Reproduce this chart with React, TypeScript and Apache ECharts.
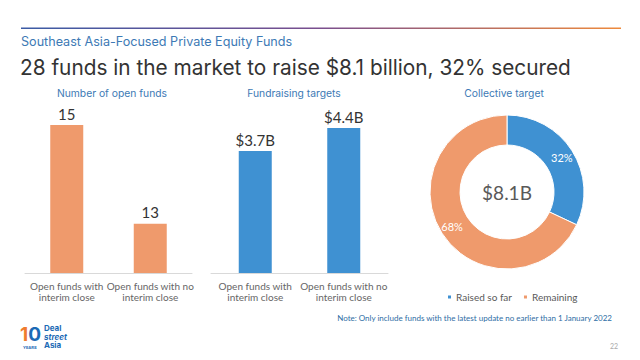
import React, { useEffect, useRef } from "react";
import * as echarts from "echarts";

const categories = ["Open funds with\ninterim close", "Open funds with no\ninterim close"];
const openFunds = [15, 13];
const targets = [3.7, 4.4];
const pieNames = ["Raised so far", "Remaining"];
const pieValues = [32, 68];
const totalLabel = "$8.1B";
const axisMins = [12, 0];

const ORANGE = "#EF9A6C";
const BLUE = "#3F91D2";
const TITLE_BLUE = "#3D7AB5";
const LOGO_BLUE = "#1B6AB5";
const LABEL_FONT = "Lato, 'Open Sans', sans-serif";
const HEAD_FONT = "Inter, 'Noto Sans', sans-serif";

export default function App() {
  const ref = useRef<HTMLDivElement>(null);
  useEffect(() => {
    const chart = echarts.init(ref.current!, undefined, { renderer: "svg" });
    const catAxis = (gridIndex: number) => ({
      type: "category",
      gridIndex,
      data: categories,
      axisTick: { show: false },
      axisLine: { lineStyle: { color: "#d9d9d9", width: 1 } },
      axisLabel: { show: false },
    });
    const option: any = {
      animation: false,
      backgroundColor: "#ffffff",
      grid: [
        { left: 25, top: 125, width: 167, height: 148 },
        { left: 211, top: 128, width: 177, height: 145 },
      ],
      xAxis: [catAxis(0), catAxis(1)],
      yAxis: [
        { type: "value", gridIndex: 0, min: axisMins[0], max: 15, show: false },
        { type: "value", gridIndex: 1, min: axisMins[1], max: 4.4, show: false },
      ],
      legend: {
        data: pieNames,
        left: 446,
        top: 292,
        padding: 0,
        itemWidth: 5,
        itemHeight: 5,
        itemGap: 10,
        icon: "rect",
        textStyle: { color: "#595959", fontSize: 10, fontFamily: LABEL_FONT, padding: [0, 0, 0, -1] },
      },
      series: [
        {
          type: "bar",
          xAxisIndex: 0,
          yAxisIndex: 0,
          data: openFunds,
          barWidth: 33,
          itemStyle: { color: ORANGE },
          label: {
            show: true,
            position: "top",
            distance: 4,
            color: "#333",
            fontSize: 15,
            fontFamily: LABEL_FONT,
          },
        },
        {
          type: "bar",
          xAxisIndex: 1,
          yAxisIndex: 1,
          data: targets,
          barWidth: 33,
          itemStyle: { color: BLUE },
          label: {
            show: true,
            position: "top",
            distance: 4,
            color: "#333",
            fontSize: 15,
            fontFamily: LABEL_FONT,
            formatter: (p: any) => "$" + p.value + "B",
          },
        },
        {
          type: "pie",
          center: [507, 192],
          radius: [47, 77],
          startAngle: 90,
          clockwise: true,
          data: pieNames.map((n, i) => ({
            name: n,
            value: pieValues[i],
            itemStyle: { color: i === 0 ? BLUE : ORANGE },
          })),
          itemStyle: { borderColor: "#fff", borderWidth: 1 },
          label: {
            show: true,
            position: "inside",
            color: "#fff",
            fontSize: 11,
            fontFamily: LABEL_FONT,
            formatter: (p: any) => p.value + "%",
          },
          labelLine: { show: false },
          emphasis: { disabled: true },
        },
      ],
    };
    chart.setOption(option);

    // category names, one centred text per line, placed through the axes' own scales
    const catLabels: any[] = [];
    [0, 1].forEach((g) => {
      const yBase = chart.convertToPixel({ yAxisIndex: g }, axisMins[g]) as number;
      categories.forEach((c, j) => {
        const x = chart.convertToPixel({ xAxisIndex: g }, j) as number;
        c.split("\n").forEach((line, k) => {
          catLabels.push({
            type: "text",
            x,
            y: yBase + 13 + k * 10.5,
            style: {
              text: line,
              fill: "#666666",
              fontSize: 10,
              fontFamily: LABEL_FONT,
              align: "center",
              verticalAlign: "middle",
            },
          });
        });
      });
    });

    const graphic: any[] = [
      {
        type: "rect",
        shape: { x: 21, y: 27.5, width: 600, height: 1.5 },
        style: {
          fill: new echarts.graphic.LinearGradient(0, 0, 1, 0, [
            { offset: 0, color: "#3B5BA5" },
            { offset: 0.5, color: "#7A4E8E" },
            { offset: 1, color: "#EE8A3C" },
          ]),
        },
      },
      {
        type: "text",
        x: 21,
        y: 41,
        style: {
          text: "Southeast Asia-Focused Private Equity Funds",
          fill: TITLE_BLUE,
          fontSize: 12.6,
          fontFamily: HEAD_FONT,
          verticalAlign: "middle",
        },
      },
      {
        type: "text",
        x: 20,
        y: 67,
        style: {
          text: "28 funds in the market to raise $8.1 billion, 32% secured",
          fill: "#333333",
          fontSize: 20.8,
          fontFamily: HEAD_FONT,
          verticalAlign: "middle",
        },
      },
      ...[
        ["Number of open funds", 112],
        ["Fundraising targets", 294],
        ["Collective target", 504],
      ].map(([t, x]) => ({
        type: "text",
        x: x as number,
        y: 93,
        style: {
          text: t as string,
          fill: TITLE_BLUE,
          fontSize: 10.3,
          fontFamily: HEAD_FONT,
          align: "center",
          verticalAlign: "middle",
        },
      })),
      ...catLabels,
      {
        type: "text",
        x: 507,
        y: 192,
        style: {
          text: totalLabel,
          fill: "#595959",
          fontSize: 19,
          fontFamily: LABEL_FONT,
          align: "center",
          verticalAlign: "middle",
        },
      },
      {
        type: "text",
        x: 612,
        y: 318,
        style: {
          text: "Note: Only include funds with the latest update no earlier than 1 January 2022",
          fill: "#2E6DA4",
          fontSize: 8,
          fontFamily: LABEL_FONT,
          align: "right",
          verticalAlign: "middle",
        },
      },
      {
        type: "text",
        x: 618,
        y: 346,
        style: {
          text: "22",
          fill: "#aaaaaa",
          fontSize: 7,
          fontFamily: LABEL_FONT,
          align: "right",
          verticalAlign: "middle",
        },
      },
      // logo
      {
        type: "text",
        x: 20,
        y: 334,
        style: {
          text: "{a|1}{b|0}",
          verticalAlign: "middle",
          rich: {
            a: { fill: "#EF7B2E", fontSize: 19, fontWeight: "bold", fontFamily: HEAD_FONT, lineHeight: 16 },
            b: { fill: LOGO_BLUE, fontSize: 19, fontWeight: "bold", fontFamily: HEAD_FONT, lineHeight: 16 },
          },
        },
      },
      {
        type: "text",
        x: 44,
        y: 328,
        style: { text: "Deal", fill: LOGO_BLUE, fontSize: 8, lineHeight: 7, fontWeight: "bold", fontFamily: HEAD_FONT, verticalAlign: "middle" },
      },
      {
        type: "text",
        x: 44,
        y: 336.5,
        style: { text: "street", fill: LOGO_BLUE, fontSize: 8, lineHeight: 7, fontWeight: "bold", fontStyle: "italic", fontFamily: HEAD_FONT, verticalAlign: "middle" },
      },
      {
        type: "text",
        x: 44,
        y: 345,
        style: { text: "Asia", fill: LOGO_BLUE, fontSize: 8, lineHeight: 7, fontWeight: "bold", fontFamily: HEAD_FONT, verticalAlign: "middle" },
      },
      {
        type: "text",
        x: 23,
        y: 347.5,
        style: { text: "YEARS", fill: LOGO_BLUE, fontSize: 4, lineHeight: 4, fontWeight: "bold", fontFamily: HEAD_FONT, verticalAlign: "middle" },
      },
    ];
    chart.setOption({ graphic });
    return () => chart.dispose();
  }, []);
  return (
    <div
      ref={ref}
      style={{ position: "fixed", left: 0, top: 0, width: 640, height: 360, background: "#fff" }}
    />
  );
}
